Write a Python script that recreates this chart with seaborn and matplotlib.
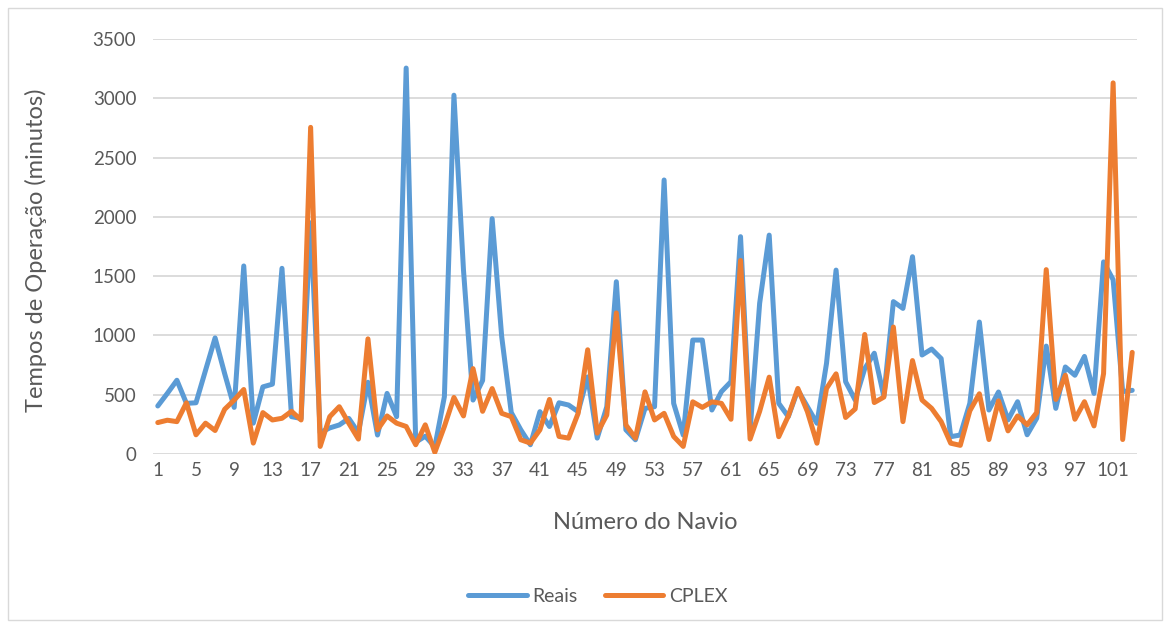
import matplotlib
matplotlib.use("Agg")
import matplotlib.pyplot as plt
import numpy as np
import pandas as pd
import seaborn as sns
from matplotlib.patches import Rectangle

# values (minutes per ship)
reais = [405, 511, 622, 427, 432, 706, 979, 678, 393, 1586,
         260, 566, 589, 1566, 315, 300, 1950, 180, 220, 245,
         300, 180, 605, 160, 511, 315, 3255, 100, 150, 60,
         483, 3026, 1551, 455, 620, 1985, 990, 350, 204, 78,
         357, 232, 432, 413, 357, 650, 134, 399, 1453, 204,
         120, 385, 399, 2311, 427, 160, 961, 961, 371, 526,
         610, 1833, 200, 1271, 1846, 427, 315, 540, 399, 259,
         765, 1551, 610, 455, 720, 850, 486, 1285, 1228, 1664,
         835, 885, 805, 146, 160, 427, 1113, 371, 523, 287,
         441, 162, 301, 910, 385, 734, 664, 823, 511, 1620,
         1470, 526, 537]
cplex = [265, 285, 273, 432, 162, 260, 198, 377, 455, 544,
         92, 349, 287, 301, 360, 287, 2755, 64, 315, 399,
         259, 126, 971, 204, 321, 260, 232, 78, 246, 14,
         232, 477, 321, 720, 360, 552, 343, 315, 120, 92,
         204, 460, 148, 134, 343, 879, 176, 329, 1190, 245,
         134, 524, 287, 343, 148, 64, 440, 393, 440, 427,
         293, 1632, 126, 360, 648, 146, 320, 553, 357, 91,
         553, 676, 308, 380, 1008, 434, 480, 1071, 273, 788,
         455, 385, 273, 91, 73, 364, 508, 122, 448, 195,
         321, 246, 349, 1555, 460, 664, 293, 441, 237, 678,
         3130, 122, 857]
navio = list(range(1, len(reais) + 1))
series_names = ["Reais", "CPLEX"]
colors = {"Reais": "#5B9BD5", "CPLEX": "#ED7D31"}

df = pd.DataFrame({
    "navio": navio * 2,
    "tempo": reais + cplex,
    "serie": ["Reais"] * len(reais) + ["CPLEX"] * len(cplex),
})

sns.set_style("white")
plt.rcParams["font.family"] = ["Lato", "DejaVu Sans"]

fig = plt.figure(figsize=(11.74, 6.25), dpi=100)
ax = fig.add_axes([153 / 1174, 1 - 454 / 625, (1137 - 153) / 1174, (454 - 39) / 625])

sns.lineplot(data=df, x="navio", y="tempo", hue="serie", hue_order=series_names,
             palette=colors, linewidth=3.6, ax=ax, legend=False, zorder=3)

ax.set_xlim(0.5, len(navio) + 0.5)
ax.set_ylim(0, 3500)
ax.set_yticks(range(0, 3501, 500))
ax.set_xticks(navio[::4])
ax.set_xticklabels([str(n) for n in navio[::4]])
ax.tick_params(axis="x", length=0, labelsize=13.5, colors="#595959", pad=6)
ax.tick_params(axis="y", length=0, labelsize=13.5, colors="#595959", pad=12)
ax.grid(axis="y", color="#D9D9D9", linewidth=1.3, zorder=0)
ax.grid(axis="x", visible=False)
for s in ax.spines.values():
    s.set_visible(False)

ax.set_xlabel("Número do Navio", fontsize=17, color="#595959")
ax.set_ylabel("Tempos de Operação (minutos)", fontsize=17, color="#595959")
ax.xaxis.set_label_coords(0.5, (454 - 512) / 415)
ax.yaxis.set_label_coords((47 - 153) / 984, 0.49)

handles = [plt.Line2D([], [], color=colors[n], linewidth=3.6) for n in series_names]
fig.legend(handles, series_names, loc="center", bbox_to_anchor=(598 / 1174, 1 - 596 / 625),
           ncol=2, frameon=False, fontsize=14, handlelength=3, columnspacing=1.4,
           handletextpad=0.3, labelcolor="#595959")

fig.patches.append(Rectangle((8 / 1174, 5 / 625), 1154 / 1174, 612 / 625,
                             transform=fig.transFigure, fill=False,
                             edgecolor="#D9D9D9", linewidth=1))

fig.savefig("out.png", dpi=100)
